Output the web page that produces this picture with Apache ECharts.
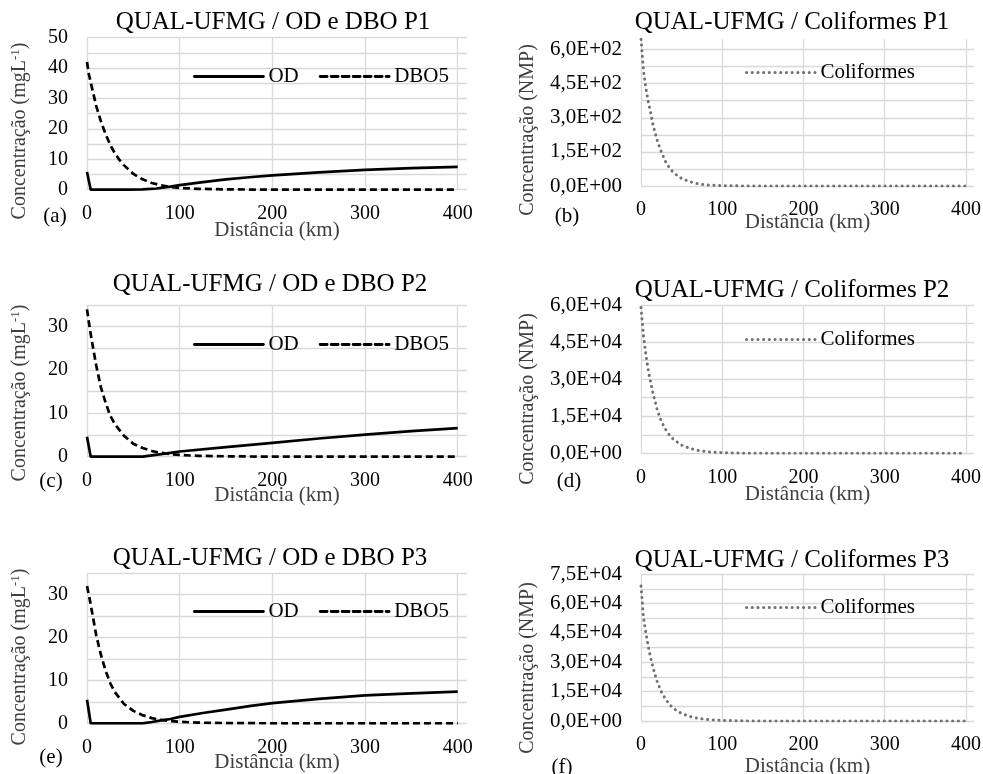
<!DOCTYPE html>
<html>
<head>
<meta charset="utf-8">
<script src="https://cdn.jsdelivr.net/npm/echarts@6/dist/echarts.min.js"></script>
<style>html,body{margin:0;padding:0;background:#fff}#c{width:983px;height:774px}</style>
</head>
<body>
<div id="c"></div>
<script>
// ---------- DATA ----------
const titles = ['QUAL-UFMG / OD e DBO P1','QUAL-UFMG / Coliformes P1','QUAL-UFMG / OD e DBO P2','QUAL-UFMG / Coliformes P2','QUAL-UFMG / OD e DBO P3','QUAL-UFMG / Coliformes P3'];
const panelTags = ['(a)','(b)','(c)','(d)','(e)','(f)'];
const xTicks = [0,100,200,300,400];
const yTicksP1 = [0,10,20,30,40,50];
const yTicksP2 = [0,10,20,30];
const yTicksP3 = [0,10,20,30];
const colTicksP1 = [0,150,300,450,600];
const colTicksP2 = [0,15000,30000,45000,60000];
const colTicksP3 = [0,15000,30000,45000,60000,75000];

const odP1 = [[0,5.8],[4,0],[20,0],[40,0],[60,0.1],[75,0.4],[90,1.0],[100,1.5],[125,2.5],[150,3.4],[175,4.1],[200,4.7],[250,5.7],[300,6.5],[350,7.1],[400,7.5]];
const dboP1 = [[0,42],[2,38],[5,34],[10,27.5],[15,22.5],[20,18.3],[25,14.8],[30,12],[35,9.8],[40,8],[50,5.2],[60,3.4],[70,2.2],[80,1.4],[90,0.9],[100,0.6],[120,0.3],[150,0.1],[200,0],[300,0],[400,0]];
const odP2 = [[0,4.6],[4,0],[30,0],[60,0],[70,0.3],[80,0.6],[90,0.9],[100,1.2],[150,2.2],[200,3.2],[250,4.2],[300,5.1],[350,5.9],[400,6.6]];
const dboP2 = [[0,34],[2,31],[5,27],[10,21],[15,16],[20,12.5],[25,9.5],[30,7.5],[40,4.8],[50,3],[60,2],[70,1.3],[80,0.9],[90,0.6],[100,0.4],[120,0.2],[150,0.1],[200,0],[400,0]];
const odP3 = [[0,5.5],[4,0],[30,0],[60,0],[70,0.3],[80,0.7],[90,1.0],[100,1.5],[125,2.4],[150,3.2],[175,4.0],[200,4.7],[250,5.7],[300,6.5],[350,7.0],[400,7.4]];
const dboP3 = [[0,32],[2,30],[5,26.5],[10,20.5],[15,16],[20,12.3],[25,9.4],[30,7.3],[40,4.5],[50,2.9],[60,1.9],[70,1.2],[80,0.8],[90,0.5],[100,0.35],[120,0.15],[150,0.05],[200,0],[400,0]];
const colP1 = [[0,645],[3,510],[6,430],[9,370],[12,320],[15,265],[20,200],[25,150],[30,108],[35,80],[40,58],[50,33],[60,19],[70,10],[80,5],[90,3],[100,1.5],[120,0.5],[150,0],[200,0],[300,0],[400,0]];
const colP2 = [[0,59000],[3,47500],[6,40000],[9,33500],[12,28500],[15,24000],[20,17500],[25,13000],[30,9800],[35,7400],[40,5600],[50,3300],[60,2000],[70,1200],[80,700],[90,400],[100,250],[120,80],[150,0],[200,0],[400,0]];
const colP3 = [[0,69000],[3,53000],[6,45000],[9,38000],[12,32000],[15,27000],[20,20000],[25,15000],[30,11300],[35,8500],[40,6400],[50,3800],[60,2300],[70,1400],[80,800],[90,500],[100,300],[120,100],[150,0],[200,0],[400,0]];

// ---------- LAYOUT ----------
const FONT = 'Liberation Serif';
const grids = [
  {left:87, top:37.7, width:380, height:152},
  {left:641, top:39.3, width:333, height:146.7},
  {left:87, top:305, width:380, height:151.7},
  {left:641, top:305, width:333, height:148.3},
  {left:87, top:573.3, width:380, height:150},
  {left:641, top:574.3, width:333, height:146.7}
].map(g=>Object.assign(g,{outerBoundsMode:'none', containLabel:false}));
const yCfg = [
  {max:50, interval:5, ticks:yTicksP1, sci:false, showMax:true},
  {max:645, interval:75, ticks:colTicksP1, sci:true, showMax:false},
  {max:35, interval:5, ticks:yTicksP2, sci:false, showMax:true},
  {max:60000, interval:7500, ticks:colTicksP2, sci:true, showMax:true},
  {max:35, interval:5, ticks:yTicksP3, sci:false, showMax:true},
  {max:75000, interval:7500, ticks:colTicksP3, sci:true, showMax:true}
];
const xNameGap = [30, 26, 28, 31, 29, 35];
const titlePos = [[273,10],[792,9.5],[270,272],[792,278],[270,546],[792,548]];
const legendPos = [[193,66],[745,62],[193,334],[745,329],[193,601],[745,597]];
const tagPos = [[55,216],[567,216],[51,481],[569,481],[51,757],[562,767]];
const yNamePos = [[20,131],[528,130],[20,393],[528,399],[20,657],[528,668]];

function sciFmt(v){
  if (v === 0) return '0,0E+00';
  const e = Math.floor(Math.log10(v) + 1e-9);
  const m = (v/Math.pow(10,e)).toFixed(1).replace('.',',');
  return m + 'E+' + (e<10?'0':'') + e;
}
const gridColor = '#d9d9d9';

const xAxes = grids.map((g,i)=>({
  type:'value', gridIndex:i, min:0, max:410, interval:100,
  name:'Distância (km)', nameLocation:'middle', nameGap:xNameGap[i], nameMoveOverlap:false,
  nameTextStyle:{fontFamily:FONT, fontSize:21, color:'#404040'},
  axisLine:{show:false}, axisTick:{show:false},
  axisLabel:{fontFamily:FONT, fontSize:20, color:'#000', margin:14,
    formatter:v=> xTicks.indexOf(v)>=0 ? String(v) : ''},
  splitLine:{show:true, showMaxLine:false, lineStyle:{color:gridColor, width:1.3}}
}));
const yAxes = grids.map((g,i)=>{
  const c = yCfg[i];
  return {
    type:'value', gridIndex:i, min:0, max:c.max, interval:c.interval,
    axisLine:{show:false}, axisTick:{show:false},
    axisLabel:{fontFamily:FONT, fontSize:c.sci?21:20, color:'#000', margin:19,
      formatter:v=> c.ticks.indexOf(v)>=0 ? (c.sci? sciFmt(v) : String(v)) : ''},
    splitLine:{show:true, showMaxLine:c.showMax, lineStyle:{color:gridColor, width:1.3}}
  };
});

const solid = {color:'#000', width:2.7, type:'solid'};
const dashed = {color:'#000', width:2.7, type:[7,4]};
const dotted = {color:'#707070', width:3, type:[0.1,5.6], cap:'round'};
function ser(name, data, idx, ls){
  return {type:'line', name, data, xAxisIndex:idx, yAxisIndex:idx, symbol:'none',
    lineStyle:ls, itemStyle:{color:ls.color}, z:3, animation:false, clip:true};
}
const series = [
  ser('OD', odP1, 0, solid), ser('DBO5', dboP1, 0, dashed),
  ser('Coliformes', colP1, 1, dotted),
  ser('OD', odP2, 2, solid), ser('DBO5', dboP2, 2, dashed),
  ser('Coliformes', colP2, 3, dotted),
  ser('OD', odP3, 4, solid), ser('DBO5', dboP3, 4, dashed),
  ser('Coliformes', colP3, 5, dotted)
];

const legends = legendPos.map((p,i)=>({
  left:p[0], top:p[1], padding:0, itemWidth:69, itemHeight:14, itemGap:20,
  selectedMode:false, orient:'horizontal',
  itemStyle:{color:'rgba(0,0,0,0)', borderWidth:0},
  lineStyle:{width: (i%2===0) ? 2.8 : 3, cap:'round'},
  data: (i%2===0) ? ['OD','DBO5'] : ['Coliformes'],
  textStyle:{fontFamily:FONT, fontSize:21, color:'#000', padding:[0,0,0,0]}
}));

const title = titles.map((t,i)=>({
  text:t, left:titlePos[i][0], top:titlePos[i][1], textAlign:'center', padding:0,
  textStyle:{fontFamily:FONT, fontSize:25, fontWeight:'normal', color:'#000'}
}));

const graphic = [];
tagPos.forEach((p,i)=>graphic.push({type:'text', x:p[0], y:p[1], silent:true,
  style:{text:panelTags[i], font:'21px "Liberation Serif"', fill:'#000', align:'center', verticalAlign:'middle'}}));
yNamePos.forEach((p,i)=>{
  const isCol = i%2===1;
  graphic.push({type:'text', x:p[0], y:p[1], rotation:Math.PI/2, silent:true,
    style:{
      text: isCol ? 'Concentração (NMP)' : 'Concentração (mgL{sup|-1})',
      font:'20px "Liberation Serif"', fill:'#404040', align:'center', verticalAlign:'middle',
      rich:{sup:{fontSize:13, fontFamily:FONT, fill:'#404040', verticalAlign:'top', padding:[0,0,8,0]}}
    }});
});

const chart = echarts.init(document.getElementById('c'), null, {renderer:'canvas'});
chart.setOption({
  backgroundColor:'#fff', animation:false,
  title, legend:legends, grid:grids, xAxis:xAxes, yAxis:yAxes, series, graphic
});
</script>
</body>
</html>
